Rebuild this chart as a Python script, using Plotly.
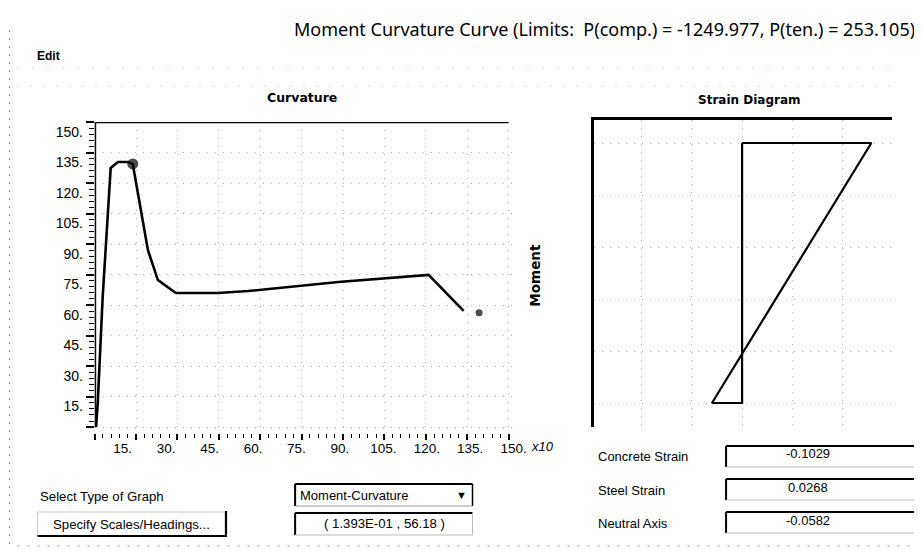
import plotly.graph_objects as go

FW, FH = 922, 540

# ---------------- data ----------------
curv_x = [0.5, 1.1, 2.9, 5.8, 8.4, 12.0, 13.8, 19.3, 22.9, 29.4, 44.7, 55.6, 88.3, 118.4, 121.0, 133.7]
moment_y = [0.0, 11.8, 64.0, 127.4, 130.3, 130.3, 129.4, 87.0, 72.3, 65.9, 65.9, 66.9, 71.3, 74.8, 74.8, 57.1]
marker_x = [13.8, 139.3]
marker_y = [129.4, 56.18]
marker_size = [11, 7]

strain_vals = [0.0, 0.1029, -0.024, 0.0, 0.0]
depth_vals = [1.0, 1.0, 0.0, 0.0, 1.0]

x_tick_vals = [15, 30, 45, 60, 75, 90, 105, 120, 135, 150]
x_tick_text = ["15.", "30.", "45.", "60.", "75.", "90.", "105.", "120.", "135.", "150."]
y_tick_vals = [0, 15, 30, 45, 60, 75, 90, 105, 120, 135, 150]
y_tick_text = ["", "15.", "30.", "45.", "60.", "75.", "90.", "105.", "120.", "135.", "150."]

title_text = "Moment Curvature Curve (Limits:  P(comp.) = -1249.977, P(ten.) = 253.105)"
graph_type = "Moment-Curvature"
readout = "( 1.393E-01 , 56.18 )"
strain_labels = ["Concrete Strain", "Steel Strain", "Neutral Axis"]
strain_numbers = ["-0.1029", "0.0268", "-0.0582"]


# target window pixels -> figure pixels (compensates page placement)
def fx(t):
    return min(max((t - 10.5) / 0.987, 0.5), FW - 1)


def fy(t):
    return min(max(t - 8, 0.5), FH - 1)


def px(x):
    return fx(x) / FW


def py(y):
    return 1 - fy(y) / FH


fig = go.Figure()

fig.add_trace(go.Scatter(x=curv_x, y=moment_y, mode="lines",
                         line=dict(color="black", width=2.6),
                         xaxis="x", yaxis="y", hoverinfo="skip", showlegend=False))
fig.add_trace(go.Scatter(x=marker_x, y=marker_y, mode="markers",
                         marker=dict(color="black", size=marker_size, line=dict(width=0)),
                         xaxis="x", yaxis="y", hoverinfo="skip", showlegend=False))
fig.add_trace(go.Scatter(x=strain_vals, y=depth_vals, mode="lines",
                         line=dict(color="black", width=2.2),
                         xaxis="x2", yaxis="y2", hoverinfo="skip", showlegend=False))
# invisible helper trace so the label axis is drawn
fig.add_trace(go.Scatter(x=[50], y=[-100], mode="markers", marker=dict(opacity=0),
                         xaxis="x3", yaxis="y", hoverinfo="skip", showlegend=False))

x_tick_font = dict(family="Liberation Sans", size=13.5, color="black")
y_tick_font = dict(family="Liberation Sans", size=14, color="black")
grid_kw = dict(showgrid=True, gridcolor="#b5b5b5", gridwidth=1, griddash="1px,7px")

fig.update_layout(
    width=FW, height=FH,
    margin=dict(l=0, r=0, t=0, b=0),
    paper_bgcolor="white", plot_bgcolor="white",
    xaxis=dict(domain=[px(97), px(518)], range=[0, 152.9], anchor="y",
               tickmode="array", tickvals=[0] + x_tick_vals, showticklabels=False,
               ticks="outside", ticklen=6, tickwidth=1.5, tickcolor="black",
               minor=dict(dtick=3, tick0=0, ticks="outside", ticklen=4, tickwidth=1.2,
                          tickcolor="black", showgrid=False),
               showline=False, zeroline=False, **grid_kw),
    xaxis3=dict(overlaying="x", anchor="y", side="bottom", range=[5.307, 151.03],
                tickmode="array", tickvals=x_tick_vals, ticktext=x_tick_text,
                ticks="", tickfont=x_tick_font, ticklabelstandoff=5,
                showgrid=False, showline=False, zeroline=False),
    yaxis=dict(domain=[py(433), py(122)], range=[-2.9, 150], anchor="x",
               tickmode="array", tickvals=y_tick_vals, ticktext=y_tick_text,
               tickfont=y_tick_font, ticklabelshift=10,
               ticks="outside", ticklen=8, tickwidth=1.5, tickcolor="black",
               minor=dict(dtick=3, tick0=0, ticks="outside", ticklen=5, tickwidth=1.2,
                          tickcolor="black", showgrid=False),
               showline=False, zeroline=False, **grid_kw),
    xaxis2=dict(domain=[px(595), px(893)], range=[-0.1181, 0.1197], anchor="y2",
                side="top", showline=True, linecolor="black", linewidth=2.5,
                showticklabels=False, ticks="", dtick=0.04, tick0=0,
                zeroline=False, **grid_kw),
    yaxis2=dict(domain=[py(427), py(120)], range=[-0.0923, 1.0885], anchor="x2",
                showline=True, linecolor="black", linewidth=3,
                showticklabels=False, ticks="", dtick=0.2, tick0=0,
                zeroline=False, **grid_kw),
)

shapes = []
# curvature frame lines
shapes.append(dict(type="line", xref="x", yref="y", x0=0, x1=150, y0=150, y1=150,
                   line=dict(color="black", width=2.5)))
shapes.append(dict(type="line", xref="x", yref="y", x0=0, x1=0, y0=0, y1=150,
                   line=dict(color="black", width=3)))


def pline(x0, y0, x1, y1, color="black", width=1.0, dash="solid"):
    shapes.append(dict(type="line", xref="paper", yref="paper",
                       x0=px(x0), x1=px(x1), y0=py(y0), y1=py(y1),
                       line=dict(color=color, width=width, dash=dash)))


# faint scanned frame lines
pline(20, 68, 900, 68, color="#b0b0b0", width=1, dash="1px,14px")
pline(20, 86, 900, 86, color="#b0b0b0", width=1, dash="1px,12px")
pline(20, 546, 910, 546, color="#999", width=1, dash="2px,8px")
pline(12, 30, 12, 545, color="#888", width=1, dash="2px,6px")


def sunken_box(x0, y0, x1, y1):
    pline(x0, y0, x1, y0, width=2)
    pline(x0, y0, x0, y1, width=2)
    pline(x1, y0, x1, y1, color="#bbb", width=1)
    pline(x0, y1, x1, y1, color="#bbb", width=1)


# dropdown
pline(297, 484, 474, 484, width=2)
pline(297, 484, 297, 506, width=2)
pline(474, 484, 474, 506, width=1.5)
pline(297, 506, 474, 506, color="#999", width=1)
# readout box
sunken_box(297, 513, 474, 535)
# button
pline(40, 512, 228, 512, color="#ccc", width=1)
pline(40, 512, 40, 536, color="#ccc", width=1)
pline(40, 536, 229, 536, width=2.2)
pline(228, 511, 228, 537, width=2.2)
# strain boxes
sunken_box(727, 446, 921, 467)
sunken_box(727, 479, 921, 500)
sunken_box(727, 512, 921, 533)

fig.update_layout(shapes=shapes)

ann = []


def text(x, y, s, size=13.2, family="Liberation Sans", xanchor="left", bold=False,
         italic=False, angle=0, color="black"):
    if bold:
        s = "<b>" + s + "</b>"
    if italic:
        s = "<i>" + s + "</i>"
    ann.append(dict(x=px(x), y=py(y), xref="paper", yref="paper", text=s, showarrow=False,
                    xanchor=xanchor, yanchor="middle", textangle=angle,
                    font=dict(family=family, size=size, color=color)))


text(918, 29, title_text, size=18, family="Noto Sans", xanchor="right")
text(37, 56, "Edit", size=12, bold=True)
text(304, 98, "Curvature", size=12.5, family="DejaVu Sans", xanchor="center", bold=True)
text(750, 100, "Strain Diagram", size=12, family="DejaVu Sans", xanchor="center", bold=True)
text(536, 275, "Moment", size=13.5, family="DejaVu Sans", xanchor="center", bold=True, angle=-90)
text(530, 446, "x10", size=13, italic=True)
text(40, 496, "Select Type of Graph", size=13.2)
text(300, 495, graph_type, size=13)
text(463, 495, "▼", size=11, xanchor="center")
text(134, 524, "Specify Scales/Headings...", size=13.2, xanchor="center")
text(386, 523, readout, size=13.2, xanchor="center")
for i, (lab, num) in enumerate(zip(strain_labels, strain_numbers)):
    yy = [456, 490, 523][i]
    text(597, yy, lab, size=13)
    text(809, yy - 3, num, size=13, xanchor="center")

fig.update_layout(annotations=ann)

fig.write_html("out.html")
